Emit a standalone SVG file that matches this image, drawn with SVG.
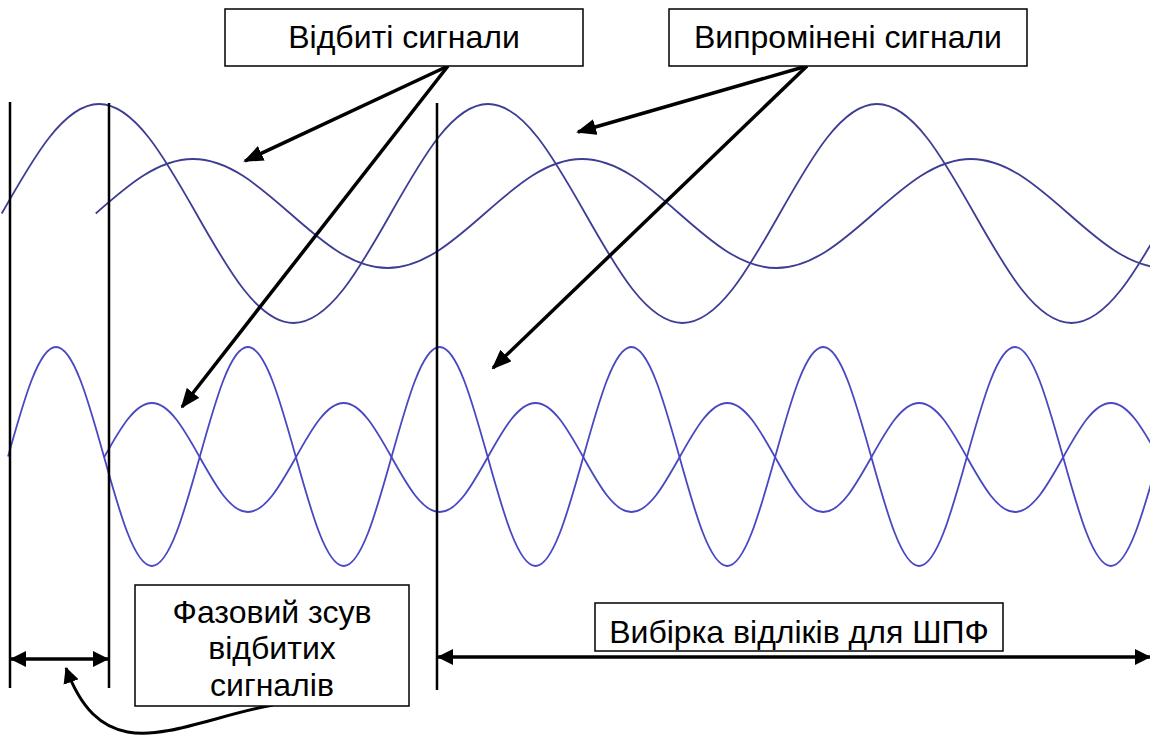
<svg xmlns="http://www.w3.org/2000/svg" width="1150" height="735" viewBox="0 0 1150 735">
<style>
  .wave-top { fill: none; stroke: #3d3d94; stroke-width: 1.8; }
  .wave-bot { fill: none; stroke: #4848c2; stroke-width: 1.8; }
  .vline { stroke: #000; stroke-width: 2.5; }
  .conn { fill: none; stroke: #000; stroke-width: 3.5; }
  .box { fill: #fff; stroke: #000; stroke-width: 1.5; }
  .lbl { font-family: "Liberation Sans", Arial, sans-serif; font-size: 32px; fill: #000; text-anchor: middle; }
</style>
<defs>
  <marker id="ah" viewBox="0 0 20 16" refX="18" refY="8" markerWidth="20" markerHeight="16" markerUnits="userSpaceOnUse" orient="auto-start-reverse">
    <path d="M0,0 L20,8 L0,16 z" fill="#000"/>
  </marker>
  <marker id="ahs" viewBox="0 0 16 16" refX="15" refY="8" markerWidth="16" markerHeight="16" markerUnits="userSpaceOnUse" orient="auto-start-reverse">
    <path d="M0,0 L16,8 L0,16 z" fill="#000"/>
  </marker>
</defs>
<rect width="1150" height="735" fill="#fff"/>

<g id="waves">
  <path id="emitted-top" class="wave-top" d="M1.75,213.5 c31.71,-56.1 62.06,-109.5 97.25,-109.5 s65.54,53.4 97.25,109.5 s62.06,109.5 97.25,109.5 s65.54,-53.4 97.25,-109.5 s62.06,-109.5 97.25,-109.5 s65.54,53.4 97.25,109.5 s62.06,109.5 97.25,109.5 s65.54,-53.4 97.25,-109.5 s62.06,-109.5 97.25,-109.5 s65.54,53.4 97.25,109.5 s62.06,109.5 97.25,109.5 s65.54,-53.4 97.25,-109.5 s62.06,-109.5 97.25,-109.5"/>
  <path id="reflected-top" class="wave-top" d="M95.75,213.5 c31.71,-27.92 62.06,-54.5 97.25,-54.5 s65.54,26.58 97.25,54.5 s62.06,54.5 97.25,54.5 s65.54,-26.58 97.25,-54.5 s62.06,-54.5 97.25,-54.5 s65.54,26.58 97.25,54.5 s62.06,54.5 97.25,54.5 s65.54,-26.58 97.25,-54.5 s62.06,-54.5 97.25,-54.5 s65.54,26.58 97.25,54.5 s62.06,54.5 97.25,54.5 s65.54,-26.58 97.25,-54.5 s62.06,-54.5 97.25,-54.5"/>
  <path id="emitted-bottom" class="wave-bot" d="M8.05,456.5 c15.64,-56.1 30.6,-109.5 47.95,-109.5 s32.31,53.4 47.95,109.5 s30.6,109.5 47.95,109.5 s32.31,-53.4 47.95,-109.5 s30.6,-109.5 47.95,-109.5 s32.31,53.4 47.95,109.5 s30.6,109.5 47.95,109.5 s32.31,-53.4 47.95,-109.5 s30.6,-109.5 47.95,-109.5 s32.31,53.4 47.95,109.5 s30.6,109.5 47.95,109.5 s32.31,-53.4 47.95,-109.5 s30.6,-109.5 47.95,-109.5 s32.31,53.4 47.95,109.5 s30.6,109.5 47.95,109.5 s32.31,-53.4 47.95,-109.5 s30.6,-109.5 47.95,-109.5 s32.31,53.4 47.95,109.5 s30.6,109.5 47.95,109.5 s32.31,-53.4 47.95,-109.5 s30.6,-109.5 47.95,-109.5 s32.31,53.4 47.95,109.5 s30.6,109.5 47.95,109.5 s32.31,-53.4 47.95,-109.5 s30.6,-109.5 47.95,-109.5"/>
  <path id="reflected-bottom" class="wave-bot" d="M104,457.5 c15.64,-27.92 30.6,-54.5 47.95,-54.5 s32.31,26.58 47.95,54.5 s30.6,54.5 47.95,54.5 s32.31,-26.58 47.95,-54.5 s30.6,-54.5 47.95,-54.5 s32.31,26.58 47.95,54.5 s30.6,54.5 47.95,54.5 s32.31,-26.58 47.95,-54.5 s30.6,-54.5 47.95,-54.5 s32.31,26.58 47.95,54.5 s30.6,54.5 47.95,54.5 s32.31,-26.58 47.95,-54.5 s30.6,-54.5 47.95,-54.5 s32.31,26.58 47.95,54.5 s30.6,54.5 47.95,54.5 s32.31,-26.58 47.95,-54.5 s30.6,-54.5 47.95,-54.5 s32.31,26.58 47.95,54.5 s30.6,54.5 47.95,54.5 s32.31,-26.58 47.95,-54.5 s30.6,-54.5 47.95,-54.5 s32.31,26.58 47.95,54.5 s30.6,54.5 47.95,54.5 s32.31,-26.58 47.95,-54.5 s30.6,-54.5 47.95,-54.5"/>
</g>

<g id="markers-lines">
  <line class="vline" x1="10" y1="102" x2="10" y2="688"/>
  <line class="vline" x1="109" y1="103" x2="109" y2="688"/>
  <line class="vline" x1="437" y1="103" x2="437" y2="690"/>
</g>

<g id="connectors">
  <line class="conn" x1="448" y1="66" x2="245" y2="161" marker-end="url(#ah)"/>
  <line class="conn" x1="448" y1="66" x2="182" y2="407" marker-end="url(#ah)"/>
  <line class="conn" x1="807" y1="66" x2="578" y2="132" marker-end="url(#ah)"/>
  <line class="conn" x1="807" y1="66" x2="493" y2="368" marker-end="url(#ah)"/>
  <line class="conn" x1="11" y1="659" x2="108" y2="659" marker-start="url(#ahs)" marker-end="url(#ahs)"/>
  <line class="conn" x1="438" y1="657" x2="1150" y2="657" marker-start="url(#ahs)" marker-end="url(#ahs)"/>
  <path class="conn" style="stroke-width:3" d="M273,705 C180,722 105,775 66,668" marker-end="url(#ahs)"/>
</g>

<g id="reflected-label">
  <rect class="box" x="225" y="9" width="358" height="57"/>
  <text class="lbl" x="404" y="48">Відбиті сигнали</text>
</g>
<g id="emitted-label">
  <rect class="box" x="669" y="9" width="358" height="57"/>
  <text class="lbl" x="848" y="48">Випромінені сигнали</text>
</g>
<g id="phase-shift-label">
  <rect class="box" x="135" y="585" width="274" height="121"/>
  <text class="lbl" x="272" y="623">Фазовий зсув</text>
  <text class="lbl" x="272" y="659">відбитих</text>
  <text class="lbl" x="272" y="696">сигналів</text>
</g>
<g id="fft-sample-label">
  <rect class="box" x="595" y="603" width="408" height="48"/>
  <text class="lbl" x="799" y="643">Вибірка відліків для ШПФ</text>
</g>
</svg>
